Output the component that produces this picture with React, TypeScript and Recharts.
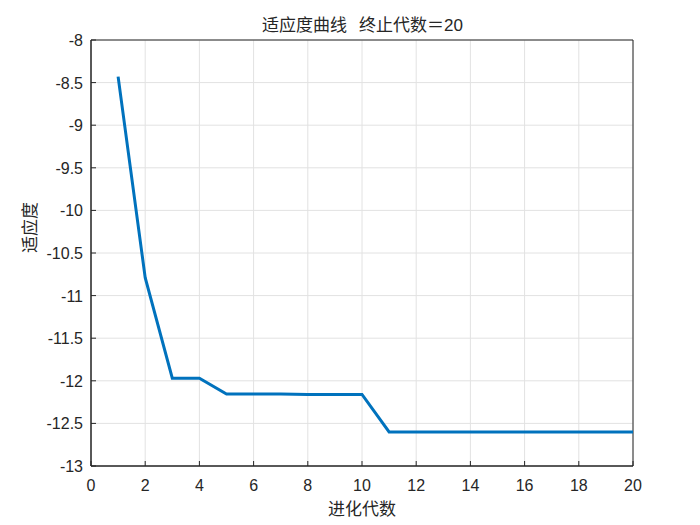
import React from 'react';
import {
  LineChart,
  Line,
  XAxis,
  YAxis,
  CartesianGrid,
  ReferenceArea,
} from 'recharts';

const generations = [1, 2, 3, 4, 5, 6, 7, 8, 9, 10, 11, 12, 13, 14, 15, 16, 17, 18, 19, 20];
const fitness = [
  -8.43, -10.79, -11.97, -11.97, -12.155, -12.155, -12.155, -12.16, -12.16, -12.16,
  -12.6, -12.6, -12.6, -12.6, -12.6, -12.6, -12.6, -12.6, -12.6, -12.6,
];
const xTicks = [0, 2, 4, 6, 8, 10, 12, 14, 16, 18, 20];
const yTicks = [-13, -12.5, -12, -11.5, -11, -10.5, -10, -9.5, -9, -8.5, -8];

const data = generations.map((g, i) => ({ gen: g, fit: fitness[i] }));

const AXIS = '#262626';
const FONT = '"Liberation Sans", Arial, "Noto Sans CJK SC", sans-serif';
const CJK = '"Noto Sans CJK SC", "Liberation Sans", sans-serif';
const MARGIN = 20;
const TICK = 5;

const BottomTick = (props: any) => {
  const { x, y, payload } = props;
  const ay = y - MARGIN;
  return (
    <g>
      <line x1={x} y1={ay} x2={x} y2={ay - TICK} stroke={AXIS} strokeWidth={1} />
      <text x={x} y={y} dy={5} textAnchor="middle" fill={AXIS} fontSize={16} fontFamily={FONT}>
        {payload.value}
      </text>
    </g>
  );
};

const LeftTick = (props: any) => {
  const { x, y, payload } = props;
  const ax = x + 8;
  return (
    <g>
      <line x1={ax} y1={y} x2={ax + TICK} y2={y} stroke={AXIS} strokeWidth={1} />
      <text x={x} y={y} dy={6} textAnchor="end" fill={AXIS} fontSize={16} fontFamily={FONT}>
        {payload.value}
      </text>
    </g>
  );
};

const TopTick = (props: any) => {
  const { x, y } = props;
  return <line x1={x} y1={y} x2={x} y2={y + TICK} stroke={AXIS} strokeWidth={1} />;
};

const RightTick = (props: any) => {
  const { x, y } = props;
  return <line x1={x} y1={y} x2={x - TICK} y2={y} stroke={AXIS} strokeWidth={1} />;
};

const App: React.FC = () => {
  return (
    <div
      style={{
        position: 'absolute',
        left: 0,
        top: 0,
        width: 700,
        height: 525,
        background: '#ffffff',
      }}
    >
      <div
        style={{
          position: 'absolute',
          top: 11,
          left: 0,
          width: 725,
          textAlign: 'center',
          fontSize: 17,
          lineHeight: '26px',
          color: AXIS,
          fontFamily: CJK,
          whiteSpace: 'pre',
        }}
      >
        适应度曲线{'\u2002\u2009'}终止代数＝<span style={{ fontFamily: FONT }}>20</span>
      </div>
      <LineChart
        width={700}
        height={525}
        data={data}
        margin={{ top: 40, right: 67, left: 0, bottom: 0 }}
      >
        <CartesianGrid
          xAxisId="b"
          yAxisId="l"
          stroke="#e2e2e2"
          strokeWidth={1}
        />
        <XAxis
          xAxisId="b"
          dataKey="gen"
          type="number"
          domain={[0, 20]}
          ticks={xTicks}
          height={59}
          stroke={AXIS}
          tickLine={false}
          tickSize={0}
          tickMargin={MARGIN}
          tick={<BottomTick />}
          label={{
            value: '进化代数',
            position: 'insideBottom',
            offset: 10,
            fill: AXIS,
            fontSize: 17,
            fontFamily: CJK,
          }}
        />
        <XAxis
          xAxisId="t"
          dataKey="gen"
          type="number"
          orientation="top"
          domain={[0, 20]}
          ticks={xTicks}
          height={0}
          stroke={AXIS}
          tickLine={false}
          tickSize={0}
          tickMargin={0}
          tick={<TopTick />}
        />
        <YAxis
          yAxisId="l"
          type="number"
          domain={[-13, -8]}
          ticks={yTicks}
          width={91}
          stroke={AXIS}
          tickLine={false}
          tickSize={0}
          tickMargin={8}
          tick={<LeftTick />}
          label={{
            value: '适应度',
            angle: -90,
            position: 'insideLeft',
            offset: 30,
            fill: AXIS,
            fontSize: 17,
            fontFamily: CJK,
          }}
        />
        <YAxis
          yAxisId="r"
          type="number"
          orientation="right"
          domain={[-13, -8]}
          ticks={yTicks}
          width={0}
          stroke={AXIS}
          tickLine={false}
          tickSize={0}
          tickMargin={0}
          tick={<RightTick />}
        />
        <ReferenceArea
          xAxisId="b"
          yAxisId="l"
          x1={0}
          x2={20}
          y1={-13}
          y2={-8}
          fill="none"
          stroke={AXIS}
          strokeWidth={1}
        />
        <Line
          xAxisId="b"
          yAxisId="l"
          dataKey="fit"
          type="linear"
          stroke="#0072BD"
          strokeWidth={3}
          dot={false}
          isAnimationActive={false}
        />
      </LineChart>
    </div>
  );
};

export default App;
